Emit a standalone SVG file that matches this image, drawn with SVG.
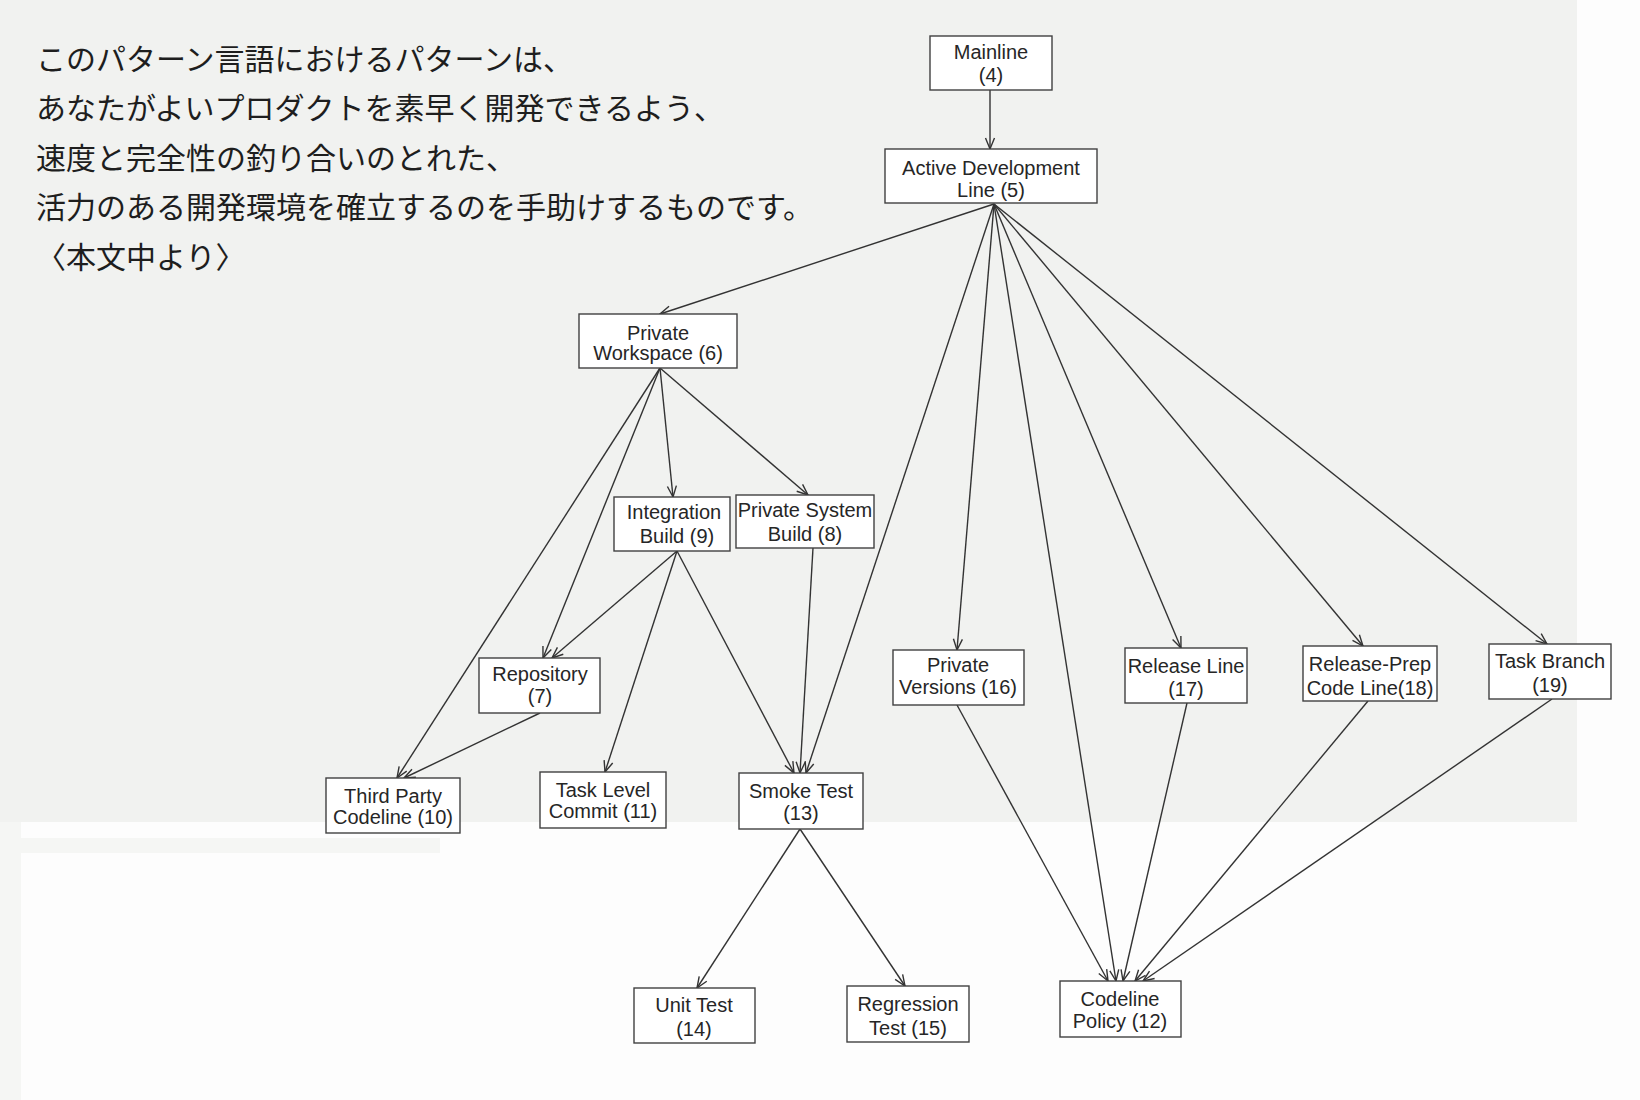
<svg xmlns="http://www.w3.org/2000/svg" width="1640" height="1100" viewBox="0 0 1640 1100">
<style>
.jp{font-family:"Noto Sans CJK JP","Noto Sans CJK SC",sans-serif;font-size:30px;fill:#1e1e1e}
.node rect{fill:#ffffff;stroke:#404040;stroke-width:1.4}
.node text{font-family:"Liberation Sans",Arial,sans-serif;font-size:20px;fill:#262626;text-anchor:middle}
.edges line{stroke:#333333;stroke-width:1.4;marker-end:url(#arr)}
</style>
<defs>
<marker id="arr" markerUnits="userSpaceOnUse" viewBox="-12 -6 13 12" refX="0" refY="0" markerWidth="13" markerHeight="12" orient="auto" overflow="visible">
<path d="M-11,-4.5 L0,0 L-11,4.5" fill="none" stroke="#333333" stroke-width="1.4"/>
</marker>
</defs>
<rect x="0" y="0" width="1640" height="1100" fill="#fdfdfd"/>
<rect x="0" y="0" width="1577" height="822" fill="#f1f2f0"/>
<rect x="0" y="838" width="440" height="15" fill="#f5f6f4"/>
<rect x="0" y="822" width="21" height="278" fill="#f5f6f4"/>

<g id="intro">
<text class="jp" x="36" y="70">このパターン言語におけるパターンは、</text>
<text class="jp" x="36" y="119">あなたがよいプロダクトを素早く開発できるよう、</text>
<text class="jp" x="36" y="169">速度と完全性の釣り合いのとれた、</text>
<text class="jp" x="36" y="218">活力のある開発環境を確立するのを手助けするものです。</text>
<text class="jp" x="36" y="268">〈本文中より〉</text>
</g>

<g class="edges" id="connectors">
<line x1="990" y1="90" x2="990" y2="149"/>
<line x1="994" y1="204" x2="660" y2="314"/>
<line x1="994" y1="204" x2="806" y2="773"/>
<line x1="994" y1="204" x2="957" y2="650"/>
<line x1="994" y1="204" x2="1116" y2="981"/>
<line x1="994" y1="204" x2="1181" y2="648"/>
<line x1="994" y1="204" x2="1363" y2="646"/>
<line x1="994" y1="204" x2="1547" y2="644"/>
<line x1="660" y1="368" x2="397" y2="778"/>
<line x1="660" y1="368" x2="543" y2="658"/>
<line x1="660" y1="368" x2="673" y2="497"/>
<line x1="660" y1="368" x2="808" y2="495"/>
<line x1="677" y1="551" x2="552" y2="658"/>
<line x1="677" y1="551" x2="605" y2="772"/>
<line x1="677" y1="551" x2="794" y2="773"/>
<line x1="813" y1="548" x2="800" y2="773"/>
<line x1="540" y1="713" x2="404" y2="778"/>
<line x1="800" y1="829" x2="697" y2="988"/>
<line x1="800" y1="829" x2="905" y2="986"/>
<line x1="957" y1="705" x2="1108" y2="981"/>
<line x1="1187" y1="703" x2="1123" y2="981"/>
<line x1="1368" y1="701" x2="1135" y2="981"/>
<line x1="1552" y1="699" x2="1143" y2="981"/>
</g>

<g class="node" id="n4"><rect x="930" y="36" width="122" height="54"/><text x="991" y="59">Mainline</text><text x="991" y="82">(4)</text></g>
<g class="node" id="n5"><rect x="885" y="149" width="212" height="54"/><text x="991" y="175">Active Development</text><text x="991" y="197">Line (5)</text></g>
<g class="node" id="n6"><rect x="579" y="314" width="158" height="54"/><text x="658" y="340">Private</text><text x="658" y="360">Workspace (6)</text></g>
<g class="node" id="n9"><rect x="614" y="497" width="116" height="54"/><text x="674" y="519">Integration</text><text x="677" y="543">Build (9)</text></g>
<g class="node" id="n8"><rect x="736" y="495" width="138" height="53"/><text x="805" y="517">Private System</text><text x="805" y="541">Build (8)</text></g>
<g class="node" id="n7"><rect x="479" y="658" width="121" height="55"/><text x="540" y="681">Repository</text><text x="540" y="703">(7)</text></g>
<g class="node" id="n10"><rect x="326" y="778" width="134" height="55"/><text x="393" y="803">Third Party</text><text x="393" y="824">Codeline (10)</text></g>
<g class="node" id="n11"><rect x="540" y="772" width="126" height="56"/><text x="603" y="797">Task Level</text><text x="603" y="818">Commit (11)</text></g>
<g class="node" id="n13"><rect x="739" y="773" width="124" height="56"/><text x="801" y="798">Smoke Test</text><text x="801" y="820">(13)</text></g>
<g class="node" id="n14"><rect x="634" y="988" width="121" height="55"/><text x="694" y="1012">Unit Test</text><text x="694" y="1036">(14)</text></g>
<g class="node" id="n15"><rect x="847" y="986" width="122" height="56"/><text x="908" y="1011">Regression</text><text x="908" y="1035">Test (15)</text></g>
<g class="node" id="n12"><rect x="1060" y="981" width="121" height="56"/><text x="1120" y="1006">Codeline</text><text x="1120" y="1028">Policy (12)</text></g>
<g class="node" id="n16"><rect x="893" y="650" width="131" height="55"/><text x="958" y="672">Private</text><text x="958" y="694">Versions (16)</text></g>
<g class="node" id="n17"><rect x="1125" y="648" width="122" height="55"/><text x="1186" y="673">Release Line</text><text x="1186" y="696">(17)</text></g>
<g class="node" id="n18"><rect x="1303" y="646" width="134" height="55"/><text x="1370" y="671">Release-Prep</text><text x="1370" y="695">Code Line(18)</text></g>
<g class="node" id="n19"><rect x="1489" y="644" width="122" height="55"/><text x="1550" y="668">Task Branch</text><text x="1550" y="692">(19)</text></g>
</svg>
